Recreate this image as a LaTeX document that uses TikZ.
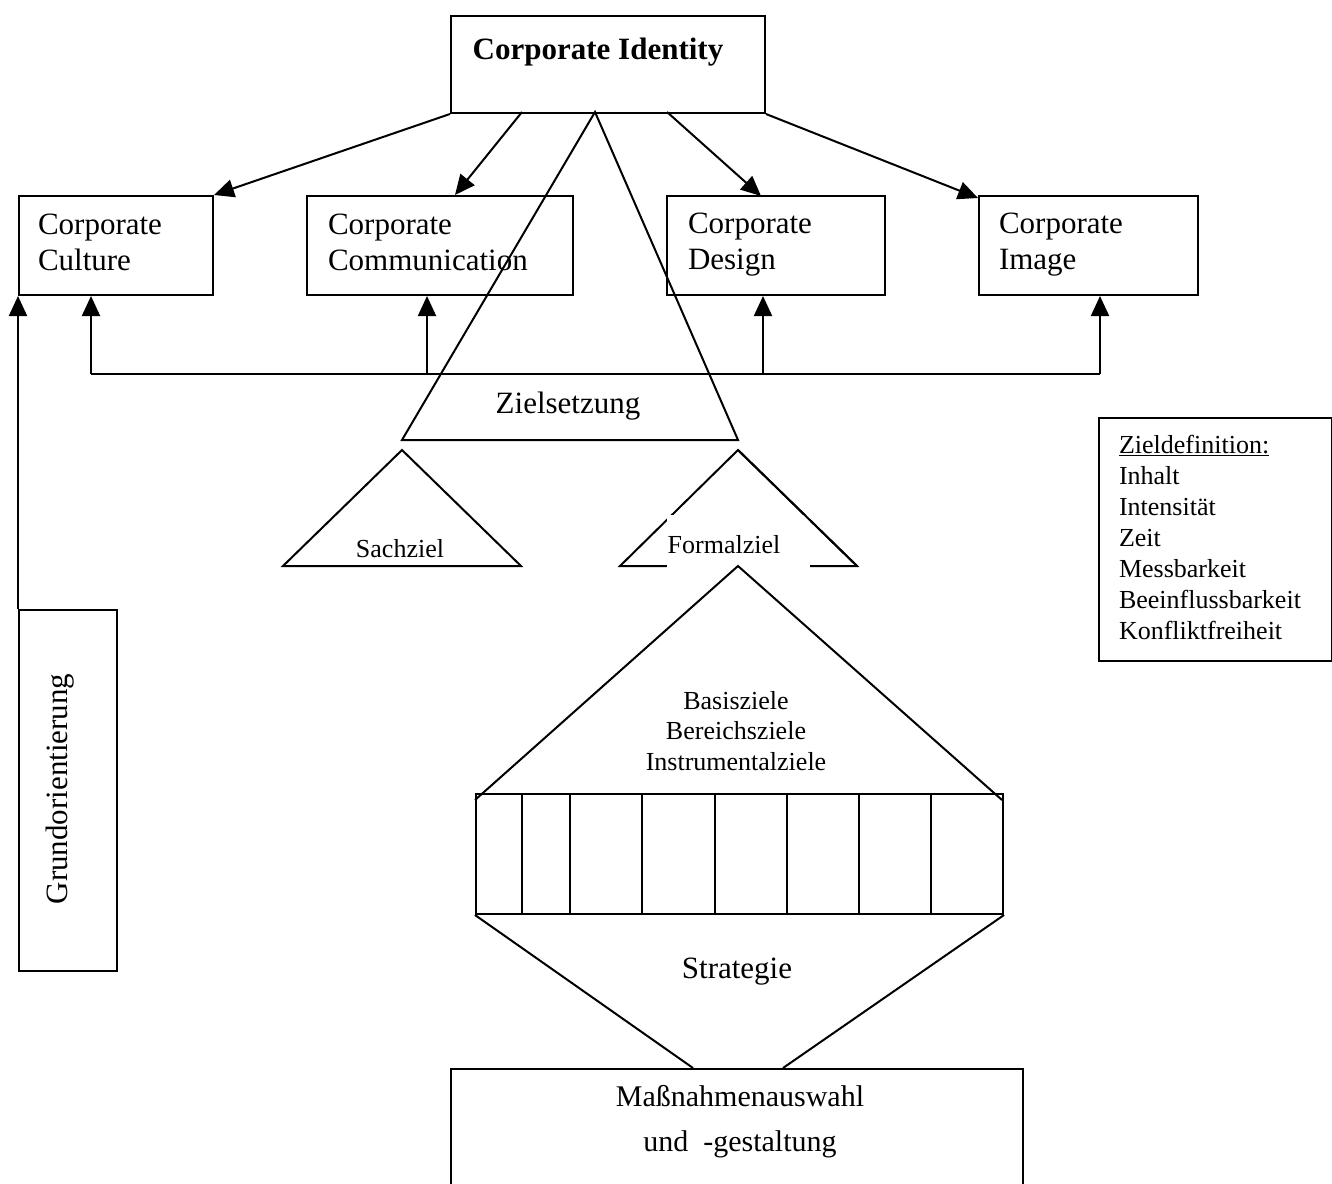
\documentclass[tikz,border=0pt]{standalone}
\usepackage{fontspec}
\setmainfont{Liberation Serif}
\usetikzlibrary{arrows.meta}
\begin{document}
\begin{tikzpicture}[x=1pt,y=-1pt,line width=2pt,line join=miter,
  box/.style={draw,line width=2pt,rectangle,inner sep=0pt,anchor=north west},
  big/.style={font=\fontsize{31}{36}\selectfont,inner sep=0pt},
  small/.style={font=\fontsize{26}{31}\selectfont,inner sep=0pt},
  arr/.style={-{Triangle[length=20pt,width=18pt]},line width=2pt}]
\useasboundingbox (0,0) rectangle (1332,1183);
\begin{scope}
\clip (0,0) rectangle (1332,1183);
% top box
\node[box,minimum width=314pt,minimum height=97pt] (ci) at (450,15) {};
\node[big,font=\fontsize{31}{36}\selectfont\bfseries] (citext) at (598,52) {Corporate Identity};
% second row
\node[box,minimum width=194pt,minimum height=99pt] (cult) at (18,195) {};
\node[box,minimum width=266pt,minimum height=99pt] (comm) at (306,195) {};
\node[box,minimum width=218pt,minimum height=99pt] (des) at (666,195) {};
\node[box,minimum width=219pt,minimum height=99pt] (img) at (978,195) {};
\node[big,anchor=west,align=left] (cultt) at (37,242) {Corporate\\Culture};
\node[big,anchor=west,align=left] (commt) at (327,242) {Corporate\\Communication};
\node[big,anchor=west,align=left] (dest) at (687,245) {Corporate\\Design};
\node[big,anchor=west,align=left] (imgt) at (998,245) {Corporate\\Image};
% arrows from top box
\coordinate (a2s) at (522,112);
\coordinate (a2e) at (455,195);
\coordinate (a3s) at (667,112);
\coordinate (a3e) at (761,196);
\coordinate (a4e) at (978,198);
\draw[arr] (ci.south west) -- (cult.north east);
\draw[arr] (a2s) -- (a2e);
\draw[arr] (a3s) -- (a3e);
\draw[arr] (ci.south east) -- (a4e);
% bracket
\coordinate (bl) at (91,374);
\coordinate (b2) at (427,374);
\coordinate (b3) at (763,374);
\coordinate (br) at (1100,374);
\draw (bl) -- (br);
\draw[arr] (bl) -- (bl |- cult.south);
\draw[arr] (b2) -- (b2 |- comm.south);
\draw[arr] (b3) -- (b3 |- des.south);
\draw[arr] (br) -- (br |- img.south);
% Grundorientierung
\node[box,minimum width=98pt,minimum height=361pt] (gr) at (18,609) {};
\node[big,rotate=90] (grt) at (60,789) {Grundorientierung};
\draw[arr] (gr.north west) -- (gr.north west |- cult.south);
% Zielsetzung trapezoid
\coordinate (zt) at (595,112);
\coordinate (zl) at (402,440);
\coordinate (zr) at (738,440);
\draw (zl) -- (zt) -- (zr) -- cycle;
\node[big] (zs) at (568,406) {Zielsetzung};
% Sachziel
\coordinate (sa) at (402,450);
\coordinate (sl) at (283,566);
\coordinate (sr) at (521,566);
\draw (sa) -- (sl) -- (sr) -- cycle;
\node[small] (st) at (400,549) {Sachziel};
% Formalziel
\coordinate (fa) at (738,450);
\coordinate (fl) at (620,566);
\coordinate (fr) at (857,566);
\draw (fa) -- (fl) -- (fr) -- cycle;
\fill[white] (667,515) rectangle (810,568);
\draw (fa) -- (fr);
\node[small] (ft) at (724,545) {Formalziel};
% big triangle and strip
\node[box,minimum width=527pt,minimum height=120pt] (strip) at (475,793) {};
\coordinate (ba) at (738,566);
\coordinate (bbl) at (475,800);
\coordinate (bbr) at (1002,800);
\draw (bbl) -- (ba) -- (bbr);
\foreach \x in {522,570,642,715,787,859,931}
  \draw[line width=2pt] (\x,793) -- (\x,913);
\node[small,anchor=north,align=center,font=\fontsize{26}{30.5}\selectfont] (goals) at (736,690) {Basisziele\\Bereichsziele\\Instrumentalziele};
% strategy
\node[box,minimum width=572pt,minimum height=200pt] (mass) at (450,1068) {};
\coordinate (ml) at (693,1068);
\coordinate (mr) at (783,1068);
\draw (strip.south west) -- (ml);
\draw (strip.south east) -- (mr);
\node[big] (strat) at (737,972) {Strategie};
\node[big,anchor=north,align=center,font=\fontsize{30}{45}\selectfont] (masst) at (740,1084) {Maßnahmenauswahl\\und\ \ -gestaltung};
% Zieldefinition
\node[box,minimum width=233pt,minimum height=243pt] (zd) at (1098,417) {};
\node[small,anchor=north west,align=left] (zdt) at (1118,434) {\underline{Zieldefinition:}\\Inhalt\\Intensität\\Zeit\\Messbarkeit\\Beeinflussbarkeit\\Konfliktfreiheit};
\end{scope}
\end{tikzpicture}
\end{document}
